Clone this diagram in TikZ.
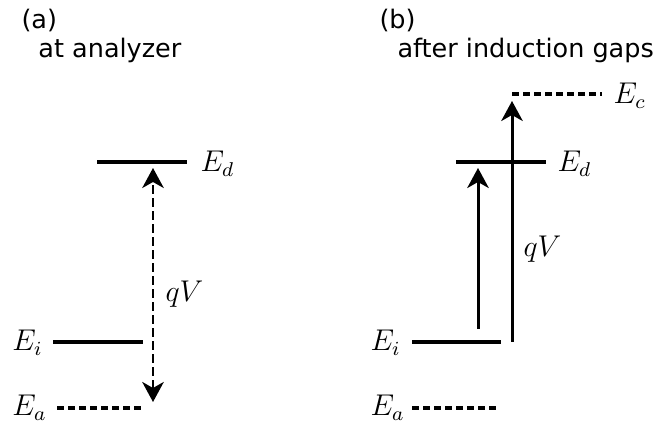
\documentclass[tikz,border=0pt]{standalone}
\usepackage{fontspec}
\setmainfont{DejaVu Sans}
\usetikzlibrary{arrows.meta,positioning}

\begin{document}
\begin{tikzpicture}[
  x=0.4pt, y=-0.4pt,
  level/.style={line width=1.5pt},
  virtual/.style={line width=1.5pt, dash pattern=on 2.6pt off 1.8pt},
  lbl/.style={anchor=base west, inner sep=0pt, font=\fontsize{11.6}{13}\selectfont},
  title/.style={anchor=base west, inner sep=0pt, font=\fontsize{10.2}{12}\selectfont},
  arrow/.style={-{Stealth[length=8pt, width=8.6pt, inset=2.4pt]}, line width=1.2pt},
  darrow/.style={{Stealth[length=8pt, width=8.6pt, inset=2.4pt]}-{Stealth[length=8pt, width=8.6pt, inset=2.4pt]}, line width=1.1pt, dash pattern=on 3.6pt off 1.6pt}
]
\useasboundingbox (0,0) rectangle (660,431);

\node[title] (ta)  at (21,29) {(a)};
\node[title] (tas) at (38,58) {at analyzer};
\node[title] (tb)  at (379,29) {(b)};
\node[title] (tbs) at (397,58) {after induction gaps};

\draw[level]   (97,162) -- (187,162);
\draw[level]   (53,342) -- (143,342);
\draw[virtual] (57,408) -- (142,408);
\node[lbl] (ad) at (200,172) {$E_d$};
\node[lbl] (ai) at (12,351)  {$E_i$};
\node[lbl] (aa) at (12,416)  {$E_a$};

\coordinate (aup) at (153,168);
\coordinate (adn) at (153,402);
\draw[darrow] (adn) -- (aup);
\node[lbl] (aqv) at (165,302) {$qV$};

\draw[virtual] (512,94)  -- (602,94);
\draw[level]   (456,162) -- (546,162);
\draw[level]   (412,342) -- (501,342);
\draw[virtual] (412,408) -- (500,408);
\node[lbl] (bc) at (613,104) {$E_c$};
\node[lbl] (bd) at (557,172) {$E_d$};
\node[lbl] (bi) at (370,351) {$E_i$};
\node[lbl] (ba) at (370,416) {$E_a$};

\coordinate (b1s) at (478,329);
\coordinate (b1e) at (478,168);
\coordinate (b2s) at (512,342);
\coordinate (b2e) at (512,101);
\draw[arrow] (b1s) -- (b1e);
\draw[arrow] (b2s) -- (b2e);
\node[lbl] (bqv) at (523,257) {$qV$};
\end{tikzpicture}
\end{document}
